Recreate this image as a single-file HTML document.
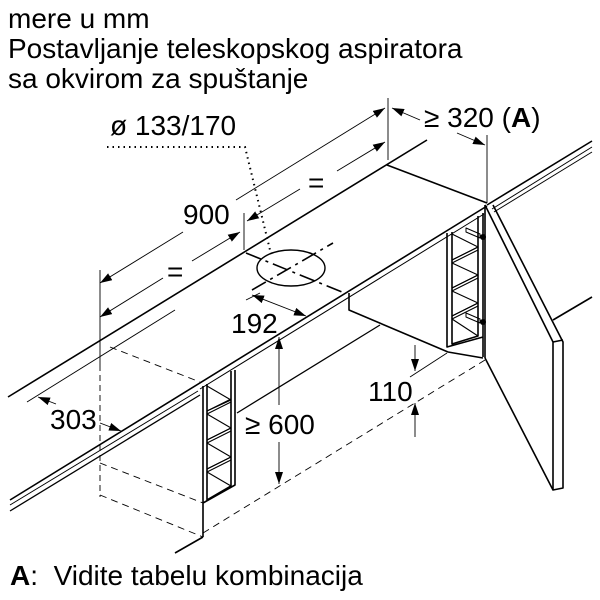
<!DOCTYPE html>
<html><head><meta charset="utf-8"><style>
html,body{margin:0;padding:0;background:#fff}
svg{display:block}
text{font-family:"Liberation Sans",Arial,sans-serif;fill:#000}
</style></head><body>
<svg width="600" height="600" viewBox="0 0 600 600" xmlns="http://www.w3.org/2000/svg">
<defs>
<marker id="a" viewBox="0 0 12 8" refX="12" refY="4" markerWidth="12" markerHeight="8" markerUnits="userSpaceOnUse" orient="auto-start-reverse"><path d="M0,0 L12,4 L0,8 z" fill="#000"/></marker>
</defs>
<text x="8" y="28" font-size="28">mere u mm</text>
<text x="8" y="58" font-size="28">Postavljanje teleskopskog aspiratora</text>
<text x="8" y="88" font-size="28">sa okvirom za spuštanje</text>

<g stroke="#000" fill="none" stroke-width="0.9">
<line x1="100" y1="283" x2="183" y2="232" marker-start="url(#a)"/>
<line x1="236" y1="200" x2="385" y2="108" marker-end="url(#a)"/>
<line x1="100" y1="317" x2="163" y2="278" marker-start="url(#a)"/>
<line x1="192" y1="261" x2="240" y2="232" marker-end="url(#a)"/>
<line x1="247" y1="221" x2="300" y2="189" marker-start="url(#a)"/>
<line x1="337" y1="171" x2="385" y2="142" marker-end="url(#a)"/>
<line x1="100" y1="270" x2="100" y2="365"/>
<line x1="100" y1="365" x2="100" y2="497" stroke-dasharray="6,4"/>
<line x1="244" y1="213" x2="244" y2="250"/>
<line x1="388" y1="98" x2="388" y2="160"/>
<line x1="487" y1="135" x2="487" y2="203"/>
<line x1="420" y1="120" x2="392" y2="108" marker-end="url(#a)"/>
<line x1="457" y1="133" x2="485" y2="145" marker-end="url(#a)"/>
<line x1="27" y1="402" x2="175" y2="310"/>
<line x1="56" y1="404" x2="38" y2="397" marker-end="url(#a)"/>
<line x1="100" y1="423" x2="121" y2="431" marker-end="url(#a)"/>
<line x1="252" y1="295" x2="306" y2="316" marker-start="url(#a)" marker-end="url(#a)"/>
<line x1="246" y1="300" x2="260" y2="293"/>
<line x1="279" y1="337" x2="279" y2="405" marker-start="url(#a)"/>
<line x1="279" y1="442" x2="279" y2="484" marker-end="url(#a)"/>
<line x1="415" y1="345" x2="415" y2="371" marker-end="url(#a)"/>
<line x1="415" y1="437" x2="415" y2="403" marker-end="url(#a)"/>
<line x1="410" y1="377" x2="447" y2="353"/>
<g stroke-dasharray="7,5">
<line x1="110" y1="347" x2="200" y2="382"/>
<line x1="100" y1="463" x2="203" y2="503"/>
<line x1="100" y1="495" x2="203" y2="537"/>
<line x1="203" y1="533" x2="485" y2="360"/>
</g>
<line x1="237" y1="413" x2="380" y2="325" stroke-width="1.3"/>
</g>

<path d="M107,147 L245,147 L270,250" stroke="#000" stroke-width="2" fill="none" stroke-dasharray="1.5,4"/>

<g stroke="#000" fill="none" stroke-width="1.6" stroke-linejoin="round">
<line x1="8" y1="397" x2="427" y2="140"/>
<line x1="387" y1="165" x2="487" y2="203"/>
<line x1="10" y1="500" x2="487" y2="206"/>
<line x1="10" y1="505" x2="198" y2="391" stroke-width="1"/>
<line x1="10" y1="511" x2="200" y2="395" stroke-width="1.3"/>
<line x1="200" y1="389" x2="484" y2="214" stroke-width="1"/>
<line x1="487" y1="205" x2="592" y2="141"/>
<line x1="492" y1="209" x2="592" y2="147" stroke-width="1"/>
<line x1="494" y1="212" x2="592" y2="152" stroke-width="1"/>
<line x1="553" y1="320" x2="592" y2="297"/>
<path d="M485,205 L553,342 L553,490 L563,488 L563,342 L493,205"/>
<line x1="553" y1="342" x2="563" y2="340"/>
<line x1="485" y1="358" x2="553" y2="490"/>
<line x1="485" y1="205" x2="485" y2="358"/>
<path d="M349,293 L349,310 L448,352 L483,358"/>
<path d="M203,386 L203,537 M235,370 L235,485 L203,503 M175,553 L203,537"/>
<path d="M207,384 L207,500 L231,486 L231,371"/>
<path d="M207,411 L231,399 M207,414 L231,402 M207,440 L231,428 M207,443 L231,431 M207,469 L231,457 M207,472 L231,460" stroke-width="1.1"/>
<path d="M207,386 L231,400 L207,411 M207,414 L231,428 L207,440 M207,443 L231,457 L207,469 M207,472 L231,486" stroke-width="1.1"/>
<path d="M447,233 L447,347 L483,337 M483,213 L483,357 M452,232 L452,344 L478,336 L478,216"/>
<path d="M452,260 L478,247 M452,263 L478,250 M452,288 L478,275 M452,291 L478,278 M452,316 L478,303 M452,319 L478,306" stroke-width="1.1"/>
<path d="M452,234 L478,247 L452,260 M452,263 L478,275 L452,288 M452,291 L478,303 L452,316 M452,319 L478,336" stroke-width="1.1"/>
<path d="M466,228 L480,234 L480,238 L466,232 z M466,313 L480,319 L480,323 L466,317 z" stroke-width="1"/>
<ellipse cx="291" cy="268" rx="34" ry="18" stroke-width="1.4"/>
</g>
<g stroke="#000" stroke-width="1.6" stroke-dasharray="16,5,3,5">
<line x1="246" y1="253" x2="342" y2="292"/>
<line x1="252" y1="290" x2="333" y2="243"/>
</g>
<circle cx="483" cy="237" r="3" fill="#000"/>
<circle cx="483" cy="322" r="3" fill="#000"/>

<text x="110" y="135" font-size="28">ø 133/170</text>
<text x="183" y="224" font-size="28">900</text>
<text x="167" y="281" font-size="28">=</text>
<text x="308" y="192" font-size="28">=</text>
<text x="424" y="127" font-size="28">≥ 320 (<tspan font-weight="bold">A</tspan>)</text>
<text x="231" y="333" font-size="28">192</text>
<text x="50" y="429" font-size="28">303</text>
<text x="245" y="434" font-size="28">≥ 600</text>
<text x="368" y="401" font-size="28">110</text>
<text x="10" y="585" font-size="28" xml:space="preserve"><tspan font-weight="bold">A</tspan>:  Vidite tabelu kombinacija</text>
</svg>
</body></html>
